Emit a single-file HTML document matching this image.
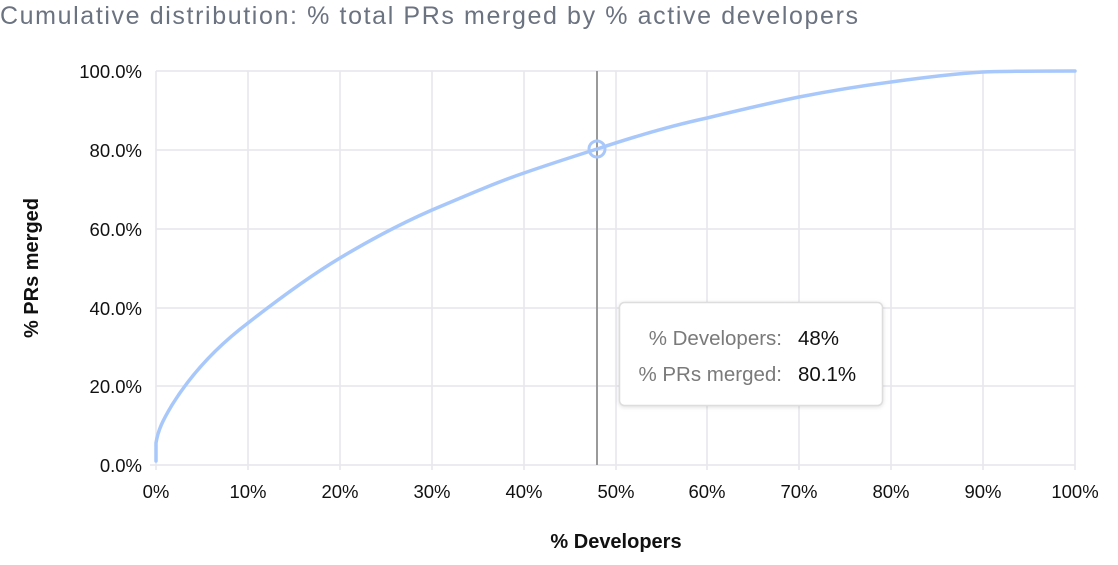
<!DOCTYPE html>
<html><head><meta charset="utf-8"><style>
body{margin:0;background:#fff;width:1118px;height:560px;overflow:hidden;font-family:"Liberation Sans",sans-serif}
</style></head><body>
<svg width="1118" height="560" xmlns="http://www.w3.org/2000/svg" font-family="Liberation Sans, sans-serif">
<text x="0" y="24" font-size="25" fill="#6b7280" textLength="858" lengthAdjust="spacing">Cumulative distribution: % total PRs merged by % active developers</text>
<g stroke="#e6e6ec" stroke-width="1.5">
<line x1="156" y1="71" x2="1075" y2="71"/><line x1="156" y1="150" x2="1075" y2="150"/><line x1="156" y1="229" x2="1075" y2="229"/><line x1="156" y1="308" x2="1075" y2="308"/><line x1="156" y1="386" x2="1075" y2="386"/><line x1="150" y1="465" x2="1075" y2="465"/>
<line x1="156" y1="71" x2="156" y2="470"/><line x1="248" y1="71" x2="248" y2="470"/><line x1="340" y1="71" x2="340" y2="470"/><line x1="432" y1="71" x2="432" y2="470"/><line x1="524" y1="71" x2="524" y2="470"/><line x1="616" y1="71" x2="616" y2="470"/><line x1="707" y1="71" x2="707" y2="470"/><line x1="799" y1="71" x2="799" y2="470"/><line x1="891" y1="71" x2="891" y2="470"/><line x1="983" y1="71" x2="983" y2="470"/><line x1="1075" y1="71" x2="1075" y2="470"/>
</g>
<g font-size="18.5" fill="#111" text-anchor="end">
<text x="142" y="78">100.0%</text><text x="142" y="157">80.0%</text><text x="142" y="236">60.0%</text><text x="142" y="315">40.0%</text><text x="142" y="393">20.0%</text><text x="142" y="472">0.0%</text>
</g>
<g font-size="18.5" fill="#111" text-anchor="middle">
<text x="156" y="498">0%</text><text x="248" y="498">10%</text><text x="340" y="498">20%</text><text x="432" y="498">30%</text><text x="524" y="498">40%</text><text x="616" y="498">50%</text><text x="707" y="498">60%</text><text x="799" y="498">70%</text><text x="891" y="498">80%</text><text x="983" y="498">90%</text><text x="1075" y="498">100%</text>
</g>
<text x="616" y="548" font-size="20" font-weight="bold" text-anchor="middle" fill="#111">% Developers</text>
<text transform="translate(38,268) rotate(-90)" font-size="20" font-weight="bold" text-anchor="middle" fill="#111">% PRs merged</text>
<line x1="597" y1="71" x2="597" y2="465" stroke="#9a9a9a" stroke-width="2"/>
<path d="M156,461 L156,443 C158,430 163,420 172,405 C190,376 215,348 248,323 C280,298 310,276 340,258 C370,240 400,224 432,210 C465,196 495,183 524,173 C550,164 575,156 597,149 C630,138 670,126 707,118 C740,110 770,103 799,97 C830,91 860,86 891,82 C920,78 950,74 983,72 C1010,71 1040,71 1075,71" fill="none" stroke="#a8c8fb" stroke-width="3.5" stroke-linecap="round"/>
<circle cx="597" cy="149" r="8" fill="none" stroke="#a8c8fb" stroke-width="3"/>
<rect x="619.5" y="302.5" width="263" height="103" rx="5" fill="#fff" stroke="#ddd" stroke-width="1.5" style="filter:drop-shadow(0 1px 2px rgba(0,0,0,0.12))"/>
<g font-size="20.5">
<text x="782" y="345" text-anchor="end" fill="#7a7a7a">% Developers:</text><text x="798" y="345" fill="#111">48%</text>
<text x="782" y="381" text-anchor="end" fill="#7a7a7a">% PRs merged:</text><text x="798" y="381" fill="#111">80.1%</text>
</g>
</svg>
</body></html>
